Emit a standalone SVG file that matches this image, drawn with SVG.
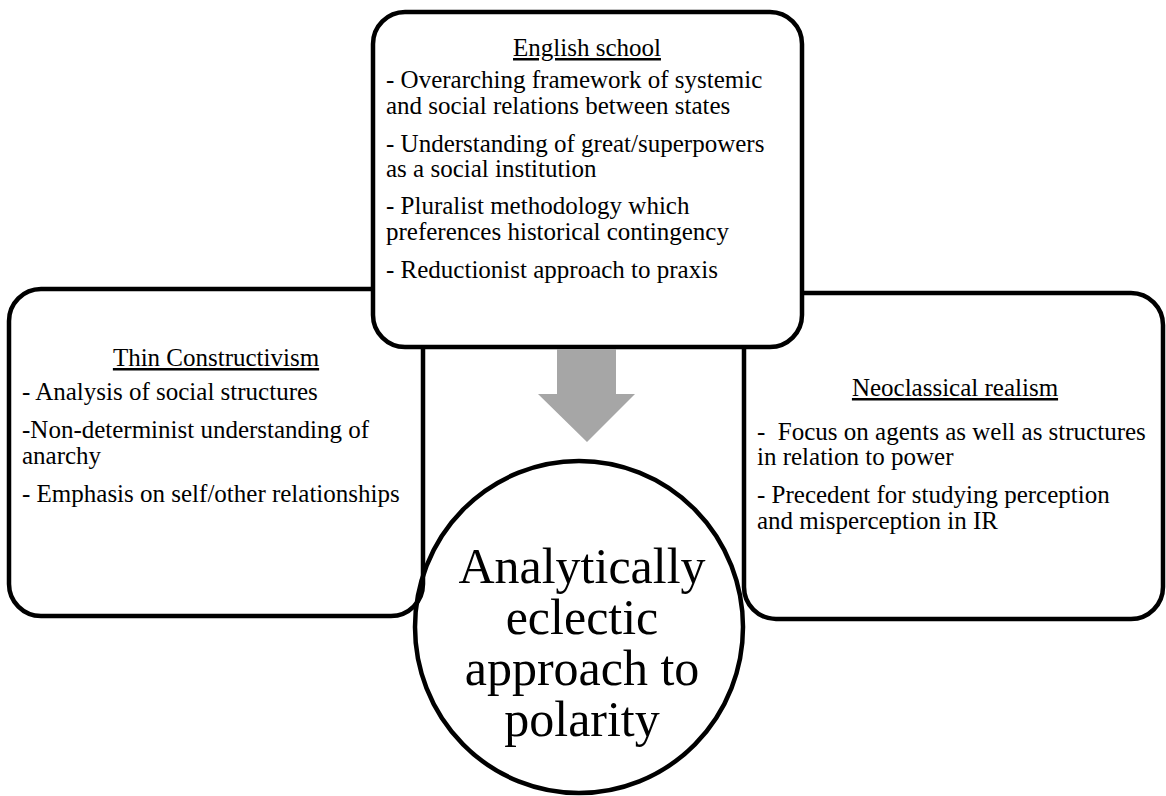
<svg xmlns="http://www.w3.org/2000/svg" width="1166" height="796" viewBox="0 0 1166 796">
<defs>
<style>
.box{fill:#fff;stroke:#000;stroke-width:4.5}
.t{font-family:"Liberation Serif","Times New Roman",serif;font-size:25px;fill:#000}
.h{text-anchor:middle;text-decoration:underline}
.c{font-family:"Liberation Serif","Times New Roman",serif;font-size:50px;fill:#000;text-anchor:middle}
</style>
</defs>
<rect width="1166" height="796" fill="#fff"/>
<g id="thin-constructivism">
<rect class="box" x="9" y="289" width="414" height="327" rx="32"/>
<text class="t h" x="216" y="366">Thin Constructivism</text>
<text class="t" x="22" y="400">- Analysis of social structures</text>
<text class="t" x="22" y="438">-Non-determinist understanding of</text>
<text class="t" x="22" y="464">anarchy</text>
<text class="t" x="22" y="502">- Emphasis on self/other relationships</text>
</g>
<g id="neoclassical-realism">
<rect class="box" x="744" y="293" width="419" height="326" rx="32"/>
<text class="t h" x="955" y="396">Neoclassical realism</text>
<text class="t" x="757" y="440" xml:space="preserve">-  Focus on agents as well as structures</text>
<text class="t" x="757" y="465">in relation to power</text>
<text class="t" x="757" y="503">- Precedent for studying perception</text>
<text class="t" x="757" y="529">and misperception in IR</text>
</g>
<g id="english-school">
<rect class="box" x="373" y="12" width="429" height="335" rx="32"/>
<text class="t h" x="587" y="56">English school</text>
<text class="t" x="386" y="88">- Overarching framework of systemic</text>
<text class="t" x="386" y="114">and social relations between states</text>
<text class="t" x="386" y="152">- Understanding of great/superpowers</text>
<text class="t" x="386" y="177">as a social institution</text>
<text class="t" x="386" y="214">- Pluralist methodology which</text>
<text class="t" x="386" y="240">preferences historical contingency</text>
<text class="t" x="386" y="278">- Reductionist approach to praxis</text>
</g>
<g id="connectors">
<polygon points="557,349 616,349 616,394 635,394 587,442 538,394 557,394" fill="#a6a6a6"/>
</g>
<g id="analytically-eclectic">
<ellipse cx="579" cy="627" rx="164" ry="166" fill="none" stroke="#000" stroke-width="4.5"/>
<text class="c" x="582" y="583">Analytically</text>
<text class="c" x="582" y="634">eclectic</text>
<text class="c" x="582" y="685">approach to</text>
<text class="c" x="582" y="736">polarity</text>
</g>
</svg>
